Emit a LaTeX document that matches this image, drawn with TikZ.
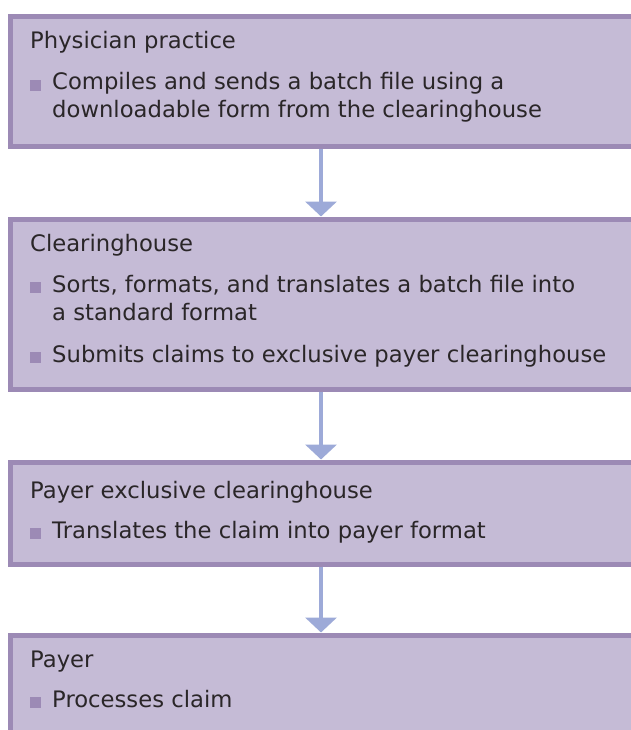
\documentclass[tikz,border=0pt]{standalone}
\usepackage{fontspec}
\setmainfont{DejaVu Sans}
\usetikzlibrary{arrows.meta}
\definecolor{boxfill}{HTML}{C5BBD6}
\definecolor{boxline}{HTML}{9C8AB5}
\definecolor{arrowcol}{HTML}{9DAAD8}
\definecolor{txt}{HTML}{2A2628}
\tikzset{
  x=1pt, y=-1pt,
  stagebox/.style={draw=boxline, fill=boxfill, line width=5pt, rectangle, anchor=north west, inner sep=0pt, minimum width=700pt},
  title/.style={anchor=base west, inner sep=0pt, text=txt, font=\fontsize{22.7}{28}\selectfont},
  item/.style={anchor=base west, inner sep=0pt, text=txt, font=\fontsize{22.7}{28}\selectfont, align=left},
  bulletsq/.style={fill=boxline, draw=none, minimum size=11pt, inner sep=0pt, anchor=south west},
  flow/.style={draw=arrowcol, line width=4pt, -{Triangle[width=31pt,length=15pt]}}
}
\begin{document}
\begin{tikzpicture}
\clip (0,0) rectangle (631,730);
\fill[white] (0,0) rectangle (631,730);
\coordinate (ax) at (321,0);
% boxes
\node[stagebox, minimum height=130pt] (b1) at (7.5,14.5) {};
\node[stagebox, minimum height=170pt] (b2) at (7.5,216.5) {};
\node[stagebox, minimum height=102pt] (b3) at (7.5,459.5) {};
\node[stagebox, minimum height=150pt] (b4) at (7.5,632.5) {};
% texts box 1
\node[title] (t1) at (30,49) {Physician practice};
\node[bulletsq] (s11) at (30,91) {};
\node[item] (i11) at (52,90) {Compiles and sends a batch file using a};
\node[item] (i12) at (52,118) {downloadable form from the clearinghouse};
% box 2
\node[title] (t2) at (30,251) {Clearinghouse};
\node[bulletsq] (s21) at (30,293) {};
\node[item] (i21) at (52,292) {Sorts, formats, and translates a batch file into};
\node[item] (i22) at (52,320) {a standard format};
\node[bulletsq] (s22) at (30,363) {};
\node[item] (i23) at (52,362) {Submits claims to exclusive payer clearinghouse};
% box 3
\node[title] (t3) at (30,498) {Payer exclusive clearinghouse};
\node[bulletsq] (s31) at (30,539) {};
\node[item] (i31) at (52,538) {Translates the claim into payer format};
% box 4
\node[title] (t4) at (30,667) {Payer};
\node[bulletsq] (s41) at (30,708) {};
\node[item] (i41) at (52,707) {Processes claim};
% arrows
\draw[flow] (b1.south -| ax) -- (b2.north -| ax);
\draw[flow] (b2.south -| ax) -- (b3.north -| ax);
\draw[flow] (b3.south -| ax) -- (b4.north -| ax);
\end{tikzpicture}
\end{document}
